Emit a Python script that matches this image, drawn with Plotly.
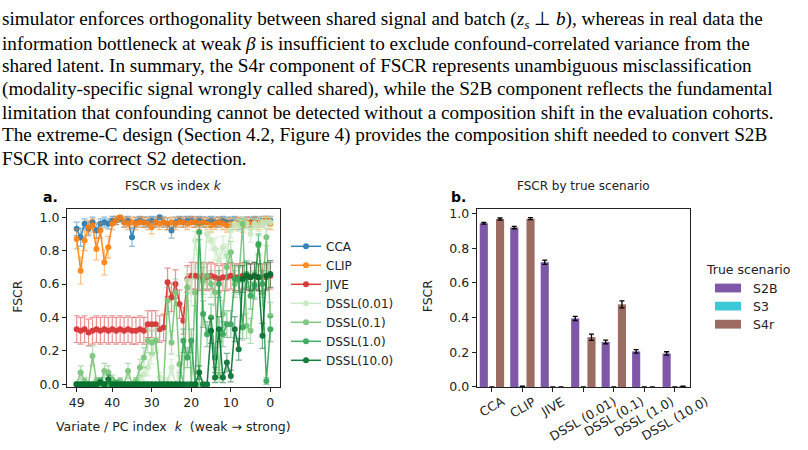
import plotly.graph_objects as go

# ---------------- data ----------------
K = [49, 48, 47, 46, 45, 44, 43, 42, 41, 40, 39, 38, 37, 36, 35, 34, 33, 32, 31, 30,
     29, 28, 27, 26, 25, 24, 23, 22, 21, 20, 19, 18, 17, 16, 15, 14, 13, 12, 11, 10,
     9, 8, 7, 6, 5, 4, 3, 2, 1, 0]

cca = [0.93, 0.88, 0.96, 0.93, 0.97, 0.92, 0.96, 0.97, 0.96, 0.98,
       0.98, 0.99, 0.97, 0.98, 0.88, 0.97, 0.98, 0.97, 0.97, 0.98,
       0.97, 1.00, 0.97, 0.96, 0.92, 0.97, 0.98, 0.97, 0.98, 0.98,
       0.97, 0.98, 0.97, 0.97, 0.98, 0.97, 0.97, 0.98, 0.97, 0.97,
       0.98, 0.96, 0.97, 0.97, 0.97, 0.98, 0.97, 0.98, 0.98, 0.98]
cca_err = [0.04, 0.055, 0.03, 0.04, 0.03, 0.045, 0.03, 0.03, 0.03, 0.025,
           0.025, 0.02, 0.03, 0.025, 0.055, 0.03, 0.025, 0.03, 0.03, 0.025,
           0.03, 0.01, 0.03, 0.035, 0.045, 0.03, 0.025, 0.03, 0.025, 0.025,
           0.03, 0.025, 0.03, 0.03, 0.025, 0.03, 0.03, 0.025, 0.03, 0.03,
           0.025, 0.035, 0.03, 0.03, 0.03, 0.025, 0.03, 0.025, 0.025, 0.025]

clip = [0.87, 0.68, 0.86, 0.94, 0.95, 0.81, 0.92, 0.73, 0.82, 0.96,
        0.98, 1.00, 0.97, 0.96, 0.97, 0.96, 0.97, 0.97, 0.96, 0.94,
        0.97, 0.96, 0.97, 0.96, 0.97, 0.96, 0.97, 0.97, 0.96, 0.97,
        0.97, 0.96, 0.97, 0.96, 0.95, 0.96, 0.97, 0.96, 0.95, 0.96,
        0.96, 0.97, 0.95, 0.97, 0.96, 0.97, 0.96, 0.97, 0.99, 0.96]
clip_err = [0.06, 0.08, 0.06, 0.04, 0.04, 0.065, 0.045, 0.075, 0.065, 0.035,
            0.025, 0.01, 0.03, 0.035, 0.03, 0.035, 0.03, 0.03, 0.035, 0.04,
            0.03, 0.035, 0.03, 0.035, 0.03, 0.035, 0.03, 0.03, 0.035, 0.03,
            0.03, 0.035, 0.03, 0.035, 0.04, 0.035, 0.03, 0.035, 0.04, 0.035,
            0.035, 0.03, 0.04, 0.03, 0.035, 0.03, 0.035, 0.03, 0.015, 0.035]

jive = [0.33, 0.32, 0.33, 0.31, 0.32, 0.33, 0.32, 0.33, 0.32, 0.33,
        0.32, 0.33, 0.32, 0.33, 0.32, 0.32, 0.33, 0.32, 0.36, 0.36,
        0.36, 0.33, 0.34, 0.61, 0.52, 0.60, 0.48, 0.38, 0.63, 0.65,
        0.65, 0.64, 0.65, 0.64, 0.65, 0.64, 0.63, 0.64, 0.64, 0.65,
        0.64, 0.64, 0.65, 0.64, 0.64, 0.65, 0.64, 0.64, 0.64, 0.65]
jive_err = [0.08, 0.08, 0.08, 0.08, 0.08, 0.08, 0.08, 0.08, 0.08, 0.08,
            0.08, 0.08, 0.08, 0.08, 0.08, 0.08, 0.08, 0.08, 0.08, 0.08,
            0.08, 0.08, 0.08, 0.085, 0.085, 0.085, 0.085, 0.08, 0.08, 0.08,
            0.08, 0.08, 0.08, 0.08, 0.08, 0.08, 0.08, 0.08, 0.08, 0.08,
            0.08, 0.08, 0.08, 0.08, 0.08, 0.08, 0.08, 0.08, 0.08, 0.08]

dssl_001 = [0.0, 0.0, 0.0, 0.0, 0.0, 0.0, 0.0, 0.0, 0.0, 0.0,
            0.0, 0.0, 0.0, 0.0, 0.0, 0.01, 0.03, 0.06, 0.10, 0.18,
            0.27, 0.04, 0.0, 0.02, 0.10, 0.0, 0.05, 0.15, 0.62, 0.55,
            0.86, 0.70, 0.60, 0.90, 0.86, 0.81, 0.74, 0.82, 0.77, 0.92,
            0.96, 0.95, 0.97, 0.96, 0.90, 0.96, 0.95, 0.97, 0.97, 0.97]
dssl_001_err = [0.005, 0.005, 0.005, 0.005, 0.005, 0.005, 0.005, 0.005, 0.005, 0.005,
                0.005, 0.005, 0.005, 0.005, 0.005, 0.015, 0.025, 0.04, 0.05, 0.06,
                0.07, 0.03, 0.005, 0.02, 0.05, 0.005, 0.035, 0.06, 0.08, 0.08,
                0.055, 0.075, 0.08, 0.05, 0.055, 0.065, 0.07, 0.065, 0.07, 0.045,
                0.03, 0.035, 0.03, 0.03, 0.05, 0.03, 0.035, 0.03, 0.03, 0.03]

dssl_01 = [0.0, 0.07, 0.02, 0.0, 0.17, 0.02, 0.0, 0.08, 0.07, 0.03,
           0.0, 0.02, 0.0, 0.08, 0.0, 0.02, 0.10, 0.16, 0.26, 0.25,
           0.26, 0.0, 0.0, 0.50, 0.25, 0.55, 0.12, 0.0, 0.58, 0.0,
           0.55, 0.0, 0.62, 0.65, 0.60, 0.55, 0.05, 0.42, 0.70, 0.79,
           0.60, 0.62, 0.96, 0.35, 0.32, 0.60, 0.83, 0.55, 0.88, 0.41]
dssl_01_err = [0.005, 0.04, 0.02, 0.005, 0.06, 0.02, 0.005, 0.045, 0.04, 0.025,
               0.005, 0.02, 0.005, 0.045, 0.005, 0.02, 0.05, 0.06, 0.07, 0.07,
               0.07, 0.005, 0.005, 0.08, 0.07, 0.08, 0.05, 0.005, 0.08, 0.005,
               0.08, 0.005, 0.08, 0.08, 0.08, 0.08, 0.035, 0.08, 0.075, 0.065,
               0.08, 0.08, 0.03, 0.075, 0.075, 0.08, 0.06, 0.08, 0.05, 0.08]

dssl_1 = [0.0, 0.0, 0.0, 0.0, 0.0, 0.0, 0.02, 0.0, 0.0, 0.0,
          0.01, 0.0, 0.0, 0.0, 0.0, 0.0, 0.0, 0.0, 0.0, 0.0,
          0.0, 0.0, 0.0, 0.0, 0.0, 0.0, 0.0, 0.26, 0.16, 0.26,
          0.0, 0.91, 0.42, 0.30, 0.40, 0.16, 0.60, 0.30, 0.36, 0.36,
          0.63, 0.63, 0.34, 0.66, 0.53, 0.59, 0.84, 0.60, 0.02, 0.33]
dssl_1_err = [0.005, 0.005, 0.005, 0.005, 0.005, 0.005, 0.02, 0.005, 0.005, 0.005,
              0.015, 0.005, 0.005, 0.005, 0.005, 0.005, 0.005, 0.005, 0.005, 0.005,
              0.005, 0.005, 0.005, 0.005, 0.005, 0.005, 0.005, 0.07, 0.06, 0.07,
              0.005, 0.045, 0.08, 0.075, 0.08, 0.06, 0.08, 0.075, 0.08, 0.08,
              0.08, 0.08, 0.075, 0.08, 0.08, 0.08, 0.06, 0.08, 0.02, 0.075]

dssl_10 = [0.0, 0.0, 0.0, 0.0, 0.0, 0.0, 0.01, 0.0, 0.03, 0.0,
           0.0, 0.0, 0.0, 0.0, 0.0, 0.0, 0.0, 0.0, 0.0, 0.0,
           0.0, 0.0, 0.0, 0.0, 0.0, 0.0, 0.0, 0.0, 0.0, 0.0,
           0.0, 0.07, 0.0, 0.0, 0.32, 0.04, 0.33, 0.04, 0.13, 0.05,
           0.33, 0.21, 0.63, 0.65, 0.64, 0.65, 0.64, 0.29, 0.65, 0.66]
dssl_10_err = [0.01, 0.01, 0.01, 0.01, 0.01, 0.01, 0.015, 0.01, 0.025, 0.01,
               0.01, 0.01, 0.01, 0.01, 0.01, 0.01, 0.01, 0.01, 0.01, 0.01,
               0.01, 0.01, 0.01, 0.01, 0.01, 0.01, 0.01, 0.01, 0.01, 0.01,
               0.01, 0.04, 0.01, 0.01, 0.075, 0.03, 0.075, 0.03, 0.055, 0.035,
               0.075, 0.065, 0.08, 0.08, 0.08, 0.08, 0.08, 0.075, 0.08, 0.08]

line_names = ["CCA", "CLIP", "JIVE", "DSSL(0.01)", "DSSL(0.1)", "DSSL(1.0)", "DSSL(10.0)"]
line_values = [cca, clip, jive, dssl_001, dssl_01, dssl_1, dssl_10]
line_errors = [cca_err, clip_err, jive_err, dssl_001_err, dssl_01_err, dssl_1_err, dssl_10_err]
line_colors = ["#1f77b4", "#ff7f0e", "#d62728", "#c7e9c0", "#74c476", "#31a354", "#006d2c"]
line_err_colors = ["rgba(31,119,180,0.55)", "rgba(255,127,14,0.55)", "rgba(214,39,40,0.55)",
                   "rgba(199,233,192,0.8)", "rgba(116,196,118,0.6)", "rgba(49,163,84,0.6)",
                   "rgba(0,109,44,0.6)"]

methods = ["CCA", "CLIP", "JIVE", "DSSL (0.01)", "DSSL (0.1)", "DSSL (1.0)", "DSSL (10.0)"]
scenarios = ["S2B", "S3", "S4r"]
s2b = [0.944, 0.919, 0.719, 0.395, 0.259, 0.205, 0.193]
s2b_err = [0.005, 0.007, 0.012, 0.012, 0.011, 0.010, 0.010]
s3 = [0.0, 0.003, 0.0, 0.0, 0.0, 0.0, 0.0]
s3_err = [0.001, 0.002, 0.001, 0.001, 0.001, 0.001, 0.001]
s4r = [0.968, 0.970, 0.0, 0.287, 0.476, 0.0, 0.003]
s4r_err = [0.006, 0.006, 0.001, 0.018, 0.020, 0.001, 0.002]
bar_values = [s2b, s3, s4r]
bar_errors = [s2b_err, s3_err, s4r_err]
bar_colors = ["#7e57a8", "#3cc8d6", "#9c6b62"]

y_ticks = [0.0, 0.2, 0.4, 0.6, 0.8, 1.0]
y_ticktext = ["0.0", "0.2", "0.4", "0.6", "0.8", "1.0"]
x_ticks_left = [49, 40, 30, 20, 10, 0]

paragraph = [
    "simulator enforces orthogonality between shared signal and batch (<i>z<sub>s</sub></i> ⊥ <i>b</i>), whereas in real data the",
    "information bottleneck at weak <i>β</i> is insufficient to exclude confound-correlated variance from the",
    "shared latent. In summary, the S4r component of FSCR represents unambiguous misclassification",
    "(modality-specific signal wrongly called shared), while the S2B component reflects the fundamental",
    "limitation that confounding cannot be detected without a composition shift in the evaluation cohorts.",
    "The extreme-C design (Section 4.2, Figure 4) provides the composition shift needed to convert S2B",
    "FSCR into correct S2 detection.",
]

# ---------------- figure ----------------
W, H = 808, 450
def px(x):
    return x / W
def py(y):
    return 1 - y / H

SANS = "DejaVu Sans"
fig = go.Figure()

for name, vals, errs, col, ecol in zip(line_names, line_values, line_errors, line_colors, line_err_colors):
    fig.add_trace(go.Scatter(
        x=K, y=vals, name=name, mode="lines+markers",
        line=dict(color=col, width=1.5),
        marker=dict(color=col, size=6),
        error_y=dict(type="data", array=errs, color=ecol, thickness=1.2, width=3),
        xaxis="x", yaxis="y", legend="legend", opacity=0.9,
    ))

for sc, vals, errs, col in zip(scenarios, bar_values, bar_errors, bar_colors):
    fig.add_trace(go.Bar(
        x=methods, y=vals, name=sc, marker=dict(color=col, line=dict(width=0)),
        error_y=dict(type="data", array=errs, color="black", thickness=1.3, width=2.5),
        xaxis="x2", yaxis="y2", showlegend=False,
    ))

dom_y = [py(392.7), py(211)]
axis_common = dict(showline=True, mirror=True, linecolor="#222", linewidth=1,
                   ticks="outside", ticklen=4, tickwidth=1, tickcolor="#222",
                   showgrid=False, zeroline=False,
                   tickfont=dict(family=SANS, size=12.5, color="#222"))

fig.update_layout(
    width=W, height=H, margin=dict(l=0, r=0, t=0, b=0),
    paper_bgcolor="white", plot_bgcolor="white",
    barmode="group", bargap=0.2, bargroupgap=0,
    xaxis=dict(domain=[px(67), px(280)], range=[51.45, -2.45], tickvals=x_ticks_left,
               anchor="y", **axis_common),
    yaxis=dict(domain=dom_y, range=[-0.016, 1.047], tickvals=y_ticks, ticktext=y_ticktext,
               anchor="x", **axis_common),
    xaxis2=dict(domain=[px(476.7), px(690)], range=[-0.5, 6.5], type="category",
                showticklabels=False, anchor="y2", **axis_common),
    yaxis2=dict(domain=dom_y, range=[0, 1.024], tickvals=y_ticks, ticktext=y_ticktext,
                anchor="x2", **axis_common),
    legend=dict(x=px(286), y=py(234), xanchor="left", yanchor="top",
                bgcolor="rgba(0,0,0,0)", borderwidth=0,
                font=dict(family=SANS, size=12, color="#222"),
                itemwidth=30, tracegroupgap=0),
    showlegend=True,
)

ann = []
# paragraph
line_y = [17, 41, 64, 88, 112, 135, 159]
for t, yy in zip(paragraph, line_y):
    ann.append(dict(text=t, x=0, y=py(yy), xref="paper", yref="paper", xanchor="left",
                    yanchor="middle", showarrow=False,
                    font=dict(family="Liberation Serif", size=19.2, color="black")))
# titles
ann.append(dict(text="FSCR vs index <i>k</i>", x=px(173.5), y=py(187), xref="paper", yref="paper",
                showarrow=False, xanchor="center", yanchor="middle",
                font=dict(family=SANS, size=12, color="#222")))
ann.append(dict(text="FSCR by true scenario", x=px(583.3), y=py(187), xref="paper", yref="paper",
                showarrow=False, xanchor="center", yanchor="middle",
                font=dict(family=SANS, size=12, color="#222")))
ann.append(dict(text="<b>a.</b>", x=px(41), y=py(198), xref="paper", yref="paper",
                showarrow=False, xanchor="left", yanchor="middle",
                font=dict(family=SANS, size=14, color="black")))
ann.append(dict(text="<b>b.</b>", x=px(449), y=py(198), xref="paper", yref="paper",
                showarrow=False, xanchor="left", yanchor="middle",
                font=dict(family=SANS, size=14, color="black")))
# axis titles
ann.append(dict(text="Variate / PC index  <i>k</i>  (weak → strong)", x=px(173), y=py(433),
                xref="paper", yref="paper", showarrow=False, xanchor="center", yanchor="middle",
                font=dict(family=SANS, size=12.5, color="#222")))
ann.append(dict(text="FSCR", x=px(17.5), y=py(300), xref="paper", yref="paper", showarrow=False,
                textangle=-90, xanchor="center", yanchor="middle",
                font=dict(family=SANS, size=12.5, color="#222")))
ann.append(dict(text="FSCR", x=px(427), y=py(300), xref="paper", yref="paper", showarrow=False,
                textangle=-90, xanchor="center", yanchor="middle",
                font=dict(family=SANS, size=12.5, color="#222")))
# rotated category labels for bar chart
for m in methods:
    ann.append(dict(text=m, x=m, y=py(397), xref="x2", yref="paper", showarrow=False,
                    textangle=-30, xanchor="center", yanchor="top",
                    font=dict(family=SANS, size=12.5, color="#222")))
# bar legend
ann.append(dict(text="True scenario", x=px(704), y=py(273), xref="paper", yref="paper",
                showarrow=False, xanchor="left", yanchor="middle",
                font=dict(family=SANS, size=12.5, color="#222")))
shapes = []
leg_y = [291.5, 310, 328.5]
for sc, col, yy in zip(scenarios, bar_colors, leg_y):
    shapes.append(dict(type="rect", xref="paper", yref="paper", x0=px(715), x1=px(741),
                       y0=py(yy - 4.5), y1=py(yy + 4.5), fillcolor=col, line=dict(width=0)))
    ann.append(dict(text=sc, x=px(751), y=py(yy), xref="paper", yref="paper", showarrow=False,
                    xanchor="left", yanchor="middle",
                    font=dict(family=SANS, size=12.5, color="#222")))

fig.update_layout(annotations=ann, shapes=shapes)
fig.write_html("out.html")
